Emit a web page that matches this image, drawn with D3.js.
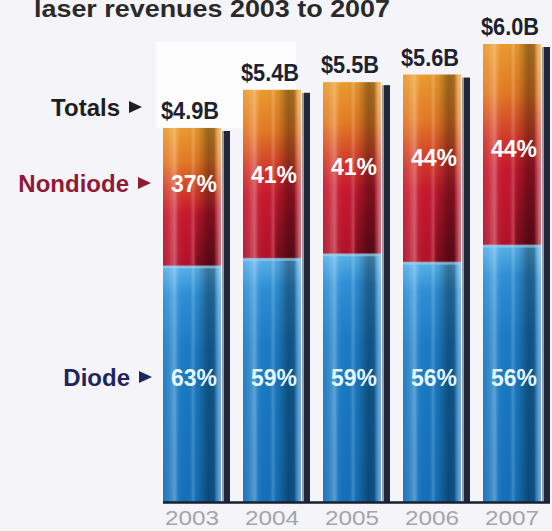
<!DOCTYPE html>
<html>
<head>
<meta charset="utf-8">
<script src="https://cdn.jsdelivr.net/npm/d3@7"></script>
<style>
  html, body { margin: 0; padding: 0; background: #f5f5f9; }
  svg { display: block; }
  text { font-family: "Liberation Sans", Arial, sans-serif; }
</style>
</head>
<body>
<svg id="chart" width="552" height="531"></svg>
<script>
// Laser revenues by year, split into diode / nondiode shares
const years = ["2003", "2004", "2005", "2006", "2007"];
const totals = [4.9, 5.4, 5.5, 5.6, 6.0];          // $ billions
const diodePct = [63, 59, 59, 56, 56];
const nondiodePct = [37, 41, 41, 44, 44];

const svg = d3.select("#chart");

const x = d3.scaleBand().domain(years).range([152, 552]).paddingInner(0.275).paddingOuter(0.1375);
const y = d3.scaleLinear().domain([0, 6]).range([502, 44]);

const rows = years.map((yr, i) => ({
  year: yr,
  total: totals[i],
  diode: totals[i] * diodePct[i] / 100,
  nondiode: totals[i] * nondiodePct[i] / 100,
  dPct: diodePct[i],
  nPct: nondiodePct[i],
  i
}));

const defs = svg.append("defs");

// vertical colour ramps
const gNon = defs.append("linearGradient").attr("id", "gNon").attr("x1", 0).attr("y1", 0).attr("x2", 0).attr("y2", 1);
[[0, "#eb9c2c"], [0.24, "#e47a22"], [0.46, "#d33a2a"], [0.62, "#c8182e"], [1, "#b2122a"]]
  .forEach(([o, c]) => gNon.append("stop").attr("offset", o).attr("stop-color", c));

const gDio = defs.append("linearGradient").attr("id", "gDio").attr("x1", 0).attr("y1", 0).attr("x2", 0).attr("y2", 1);
[[0, "#58b2ea"], [0.12, "#2c90d6"], [0.35, "#1a7cc6"], [1, "#1370ba"]]
  .forEach(([o, c]) => gDio.append("stop").attr("offset", o).attr("stop-color", c));

// horizontal cylinder shading
const gShade = defs.append("linearGradient").attr("id", "gShade").attr("x1", 0).attr("y1", 0).attr("x2", 1).attr("y2", 0);
[[0, "#ffffff", 0.05], [0.1, "#ffffff", 0.12], [0.2, "#ffffff", 0.3], [0.27, "#ffffff", 0.05],
 [0.42, "#000000", 0.0], [0.52, "#ffffff", 0.18], [0.6, "#000000", 0.05], [0.78, "#000000", 0.35],
 [0.88, "#000000", 0.3], [0.95, "#ffffff", 0.25], [1, "#ffffff", 0.4]]
  .forEach(([o, c, a]) => gShade.append("stop").attr("offset", o).attr("stop-color", c).attr("stop-opacity", a));

// darker lower-right corner of nondiode segment
const gNonDark = defs.append("linearGradient").attr("id", "gNonDark").attr("x1", 0).attr("y1", 0).attr("x2", 0).attr("y2", 1);
[[0, "#000000", 0], [0.5, "#000000", 0], [1, "#000000", 0.28]]
  .forEach(([o, c, a]) => gNonDark.append("stop").attr("offset", o).attr("stop-color", c).attr("stop-opacity", a));

// faint white panel behind upper-left of the plot
svg.append("rect").attr("x", 156).attr("y", 42).attr("width", 140).attr("height", 86).attr("fill", "#fdfdfe");

// title along the top edge
svg.append("text")
  .attr("x", 34).attr("y", 17)
  .attr("font-size", 23).attr("font-weight", "bold").attr("fill", "#2a2a2a")
  .attr("textLength", 356).attr("lengthAdjust", "spacingAndGlyphs")
  .text("laser revenues 2003 to 2007");

const bw = x.bandwidth();

const bars = svg.append("g").selectAll("g").data(rows).join("g");

// dark side stripe
bars.append("rect")
  .attr("x", d => x(d.year) + bw + 1).attr("y", d => y(d.total) + 3)
  .attr("width", 2).attr("height", d => y(0) - y(d.total) - 3)
  .attr("fill", "#9a9aa4");
bars.append("rect")
  .attr("x", d => x(d.year) + bw + 3).attr("y", d => y(d.total) + 3)
  .attr("width", 6).attr("height", d => y(0) - y(d.total) - 3)
  .attr("fill", "#232838");

// diode segment
bars.append("rect")
  .attr("x", d => x(d.year)).attr("y", d => y(d.diode))
  .attr("width", bw).attr("height", d => y(0) - y(d.diode))
  .attr("fill", "url(#gDio)");

// nondiode segment
bars.append("rect")
  .attr("x", d => x(d.year)).attr("y", d => y(d.total))
  .attr("width", bw).attr("height", d => y(d.diode) - y(d.total))
  .attr("fill", "url(#gNon)");
bars.append("rect")
  .attr("x", d => x(d.year) + bw * 0.55).attr("y", d => y(d.total))
  .attr("width", bw * 0.4).attr("height", d => y(d.diode) - y(d.total))
  .attr("fill", "url(#gNonDark)");

// cylinder shading over whole bar
bars.append("rect")
  .attr("x", d => x(d.year)).attr("y", d => y(d.total))
  .attr("width", bw).attr("height", d => y(0) - y(d.total))
  .attr("fill", "url(#gShade)");

// seam between segments
bars.append("rect")
  .attr("x", d => x(d.year)).attr("y", d => y(d.diode) - 1)
  .attr("width", bw).attr("height", 3)
  .attr("fill", "#9fd6f4").attr("opacity", 0.6);

// baseline
svg.append("line")
  .attr("x1", x(years[0])).attr("x2", x(years[years.length - 1]) + bw + 9)
  .attr("y1", y(0) + 0.5).attr("y2", y(0) + 0.5)
  .attr("stroke", "#18202e").attr("stroke-width", 2.5);

// totals above bars
bars.append("text")
  .attr("x", d => x(d.year) + bw / 2 - 2).attr("y", d => y(d.total) - 9)
  .attr("text-anchor", "middle")
  .attr("font-size", 24).attr("font-weight", "bold").attr("fill", "#1c2230")
  .attr("textLength", 58).attr("lengthAdjust", "spacingAndGlyphs")
  .text(d => "$" + d.total.toFixed(1) + "B");

// nondiode share labels stepping down across the years
const nLabelY = d3.scaleLinear().domain([0, years.length - 1]).range([192, 157]);
bars.append("text")
  .attr("x", d => x(d.year) + bw / 2 + 2).attr("y", d => nLabelY(d.i))
  .attr("text-anchor", "middle")
  .attr("font-size", 23).attr("font-weight", "bold").attr("fill", "#ffffff")
  .attr("textLength", 46).attr("lengthAdjust", "spacingAndGlyphs")
  .text(d => d.nPct + "%");

// diode share labels on a common line
bars.append("text")
  .attr("x", d => x(d.year) + bw / 2 + 2).attr("y", 386)
  .attr("text-anchor", "middle")
  .attr("font-size", 23).attr("font-weight", "bold").attr("fill", "#e8f6ff")
  .attr("textLength", 46).attr("lengthAdjust", "spacingAndGlyphs")
  .text(d => d.dPct + "%");

// year axis labels
const xAxis = svg.append("g").attr("transform", `translate(0,${y(0)})`)
  .call(d3.axisBottom(x).tickSize(0).tickPadding(26));
xAxis.select(".domain").remove();
xAxis.selectAll("text")
  .attr("font-family", "'Liberation Sans', Arial, sans-serif")
  .attr("font-size", 20).attr("fill", "#a4a4aa")
  .attr("dy", 0).attr("y", 23)
  .attr("textLength", 54).attr("lengthAdjust", "spacingAndGlyphs");

// side captions with pointer triangles
const captions = [
  { text: "Totals", y: 116, color: "#1e1e22", right: 120 },
  { text: "Nondiode", y: 192, color: "#8e1a36", right: 129 },
  { text: "Diode", y: 386, color: "#1e2660", right: 130 }
];
captions.forEach(c => {
  svg.append("text")
    .attr("x", c.right).attr("y", c.y).attr("text-anchor", "end")
    .attr("font-size", 24).attr("font-weight", "bold").attr("fill", c.color)
    .text(c.text);
  const tx = c.right + 9, ty = c.y - 9;
  svg.append("path")
    .attr("d", `M${tx},${ty - 6}L${tx + 13},${ty}L${tx},${ty + 6}Z`)
    .attr("fill", c.color);
});
</script>
</body>
</html>
